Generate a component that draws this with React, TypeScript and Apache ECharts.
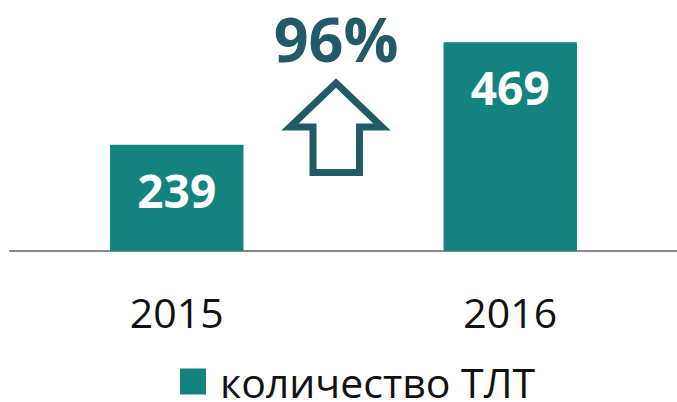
import React, { useEffect, useRef } from "react";
import * as echarts from "echarts";

const categories = ["2015", "2016"];
const values = [239, 469];
const seriesName = "количество ТЛТ";
const growthLabel = "96%";

export default function App() {
  const ref = useRef<HTMLDivElement>(null);
  useEffect(() => {
    if (!ref.current) return;
    const chart = echarts.init(ref.current, null, { renderer: "svg" });
    const font = "'Open Sans', 'Noto Sans', sans-serif";
    chart.setOption({
      animation: false,
      grid: { left: 10, width: 672, top: 28.5, bottom: 151 },
      legend: {
        data: [seriesName],
        top: 361,
        left: 180,
        icon: "rect",
        itemWidth: 26,
        itemHeight: 26,
        itemGap: 12,
        padding: 0,
        textStyle: {
          fontSize: 41,
          lineHeight: 40,
          color: "#111",
          fontFamily: font,
          padding: [0, 0, 0, 9],
        },
      },
      xAxis: {
        type: "category",
        data: categories,
        axisLine: { show: true, lineStyle: { color: "#888", width: 2 } },
        axisTick: { show: false },
        axisLabel: {
          fontSize: 41,
          lineHeight: 41,
          color: "#111",
          fontFamily: font,
          margin: 40,
        },
      },
      yAxis: {
        type: "value",
        min: 0,
        max: 500,
        show: false,
        splitLine: { show: false },
      },
      series: [
        {
          name: seriesName,
          type: "bar",
          data: values,
          barWidth: "40%",
          itemStyle: { color: "#148380" },
          label: {
            show: true,
            position: ["50%", 45],
            align: "center",
            verticalAlign: "middle",
            color: "#fff",
            fontWeight: "bold",
            fontSize: 46,
            fontFamily: font,
          },
        },
      ],
      graphic: [
        {
          type: "text",
          x: 336,
          y: 38,
          style: {
            text: growthLabel,
            fontSize: 61,
            lineHeight: 60,
            fontWeight: "bold",
            fontFamily: font,
            fill: "#225a68",
            align: "center",
            verticalAlign: "middle",
          },
        },
        {
          type: "polygon",
          shape: {
            points: [
              [336, 83],
              [382, 127],
              [359.5, 127],
              [359.5, 172.5],
              [313, 172.5],
              [313, 127],
              [290, 127],
            ],
          },
          style: { fill: "none", stroke: "#225a68", lineWidth: 7, lineJoin: "miter" },
        },
      ],
    });
    return () => chart.dispose();
  }, []);
  return (
    <div
      ref={ref}
      style={{ position: "absolute", left: 0, top: 0, width: 677, height: 402 }}
    />
  );
}
